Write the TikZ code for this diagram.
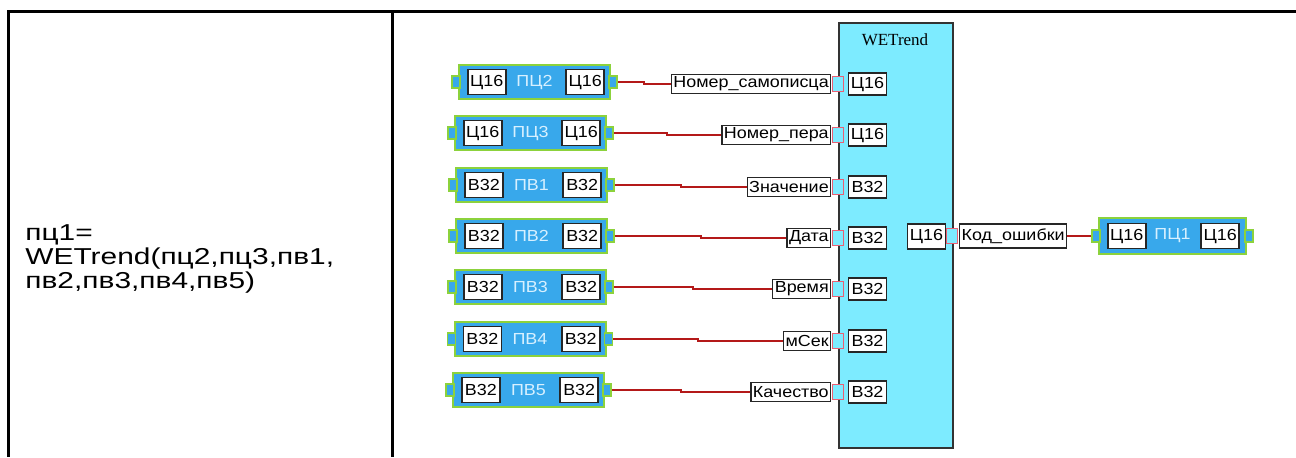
\documentclass[tikz,border=0pt]{standalone}
\usepackage{fontspec}
\setmainfont{Liberation Sans}
\newfontfamily\lblfont[FakeStretch=1.12]{Liberation Sans}
\newfontfamily\ttlfont{Liberation Serif}
\newfontfamily\notefont[FakeStretch=1.3]{Liberation Sans}
\usetikzlibrary{positioning,calc}

\definecolor{blkblue}{RGB}{56,168,235}
\definecolor{blkgreen}{RGB}{140,210,60}
\definecolor{fbcyan}{RGB}{125,235,255}
\definecolor{pinred}{RGB}{235,95,115}
\definecolor{wirered}{RGB}{180,25,25}
\definecolor{tagtext}{RGB}{215,240,255}

\tikzset{
  varblock/.style={draw=blkgreen, fill=blkblue, line width=1pt,
    minimum width=75.5pt, minimum height=17pt, inner sep=0pt},
  typebox/.style={draw=black!85, fill=white, line width=0.8pt,
    minimum width=19pt, minimum height=12.5pt, inner sep=0pt,
    font=\lblfont\fontsize{8}{9}\selectfont},
  blkport/.style={draw=blkgreen, fill=blkblue, line width=0.6pt,
    minimum width=4pt, minimum height=6pt, inner sep=0pt},
  pinport/.style={draw=pinred, fill=fbcyan, line width=0.6pt,
    minimum width=5.5pt, minimum height=7.5pt, inner sep=0pt},
  pinlabel/.style={draw=black!85, fill=white, line width=0.6pt,
    minimum height=9.5pt, inner sep=1pt,
    font=\lblfont\fontsize{8}{9}\selectfont},
  tagname/.style={text=tagtext, font=\lblfont\fontsize{8}{9}\selectfont},
  wire/.style={draw=wirered, line width=1pt}
}

\begin{document}
\begin{tikzpicture}[x=0.5pt,y=-0.5pt]
\useasboundingbox (0,0) rectangle (1296,457);

% table frame
\draw[line width=1.5pt] (1296,11) -- (8,11) -- (8,457);
\draw[line width=1.5pt] (392,11) -- (392,457);

\node[font=\notefont\fontsize{11.5}{12}\selectfont, align=left,
  anchor=north west, inner sep=0pt] (note) at (25,224)
  {пц1=\\WETrend(пц2,пц3,пв1,\\пв2,пв3,пв4,пв5)};

% function block
\node[draw=black!80, fill=fbcyan, line width=0.8pt, anchor=north west,
  minimum width=57pt, minimum height=212.5pt, inner sep=0pt] (wet) at (838,22) {};
\node[font=\ttlfont\fontsize{8.5}{10}\selectfont] (wetname) at (895,40) {WETrend};

% inputs
\foreach \i/\ty/\nm/\lbl/\cx in {1/Ц16/ПЦ2/Номер\_самописца/534.5,
    2/Ц16/ПЦ3/Номер\_пера/530.5, 3/В32/ПВ1/Значение/531.5,
    4/В32/ПВ2/Дата/531.5, 5/В32/ПВ3/Время/530.5,
    6/В32/ПВ4/мСек/530, 7/В32/ПВ5/Качество/528.5}
{
  \pgfmathsetmacro\yy{round(82+51.3*(\i-1))}
  \node[varblock] (b\i) at (\cx,\yy) {};
  \node[typebox, right=4.5pt of b\i.west] (ta\i) {\ty};
  \node[typebox, left=3pt of b\i.east] (tb\i) {\ty};
  \node[tagname] (n\i) at (b\i) {\nm};
  \node[blkport] (pl\i) at ($(b\i.west)+(-2,0)$) {};
  \node[blkport] (pr\i) at ($(b\i.east)+(2,0)$) {};
  \node[pinport] (q\i) at (838,\yy+2) {};
  \node[pinlabel, left=0.3pt of q\i] (l\i) {\lbl};
  \node[typebox, minimum height=11pt, right=1.8pt of q\i] (t\i) {\ty};
  \coordinate (j\i) at ($(pr\i.east)!.5!(l\i.west)$);
  \draw[wire] (pr\i.east) -- (pr\i.east -| j\i) |- (l\i.west);
}

% output
\node[typebox] (tout) at (926.5,236.5) {Ц16};
\node[pinport] (qout) at (952,236) {};
\node[pinlabel, right=0.5pt of qout, minimum height=12pt] (lout) {Код\_ошибки};
\node[varblock, minimum width=73.5pt, minimum height=18pt] (bout) at (1172.5,236) {};
\node[typebox, right=4.5pt of bout.west] (touta) {Ц16};
\node[typebox, left=3.5pt of bout.east] (toutb) {Ц16};
\node[tagname] (nout) at (bout) {ПЦ1};
\node[blkport] (plout) at ($(bout.west)+(-2,0)$) {};
\node[blkport] (prout) at ($(bout.east)+(2,0)$) {};
\draw[wire] (lout.east) -- (plout.west);
\end{tikzpicture}
\end{document}
